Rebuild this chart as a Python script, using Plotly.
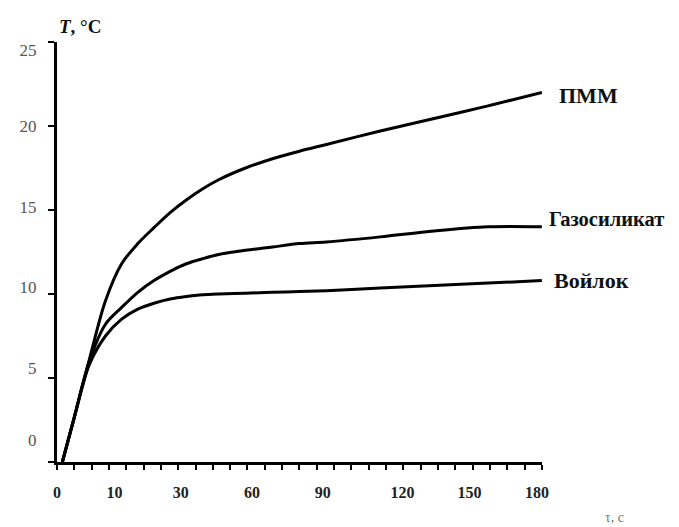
import plotly.graph_objects as go

# time, s
time_s = [2, 6, 12, 18, 24, 30, 36, 42, 48, 54, 60, 70, 80, 90, 100, 120, 140, 160, 180]
# temperature, °C
pmm = [0, 2.4, 6.1, 9.6, 11.8, 13.0, 13.95, 14.85, 15.6, 16.25, 16.8, 17.5, 18.05, 18.5, 18.9, 19.7, 20.45, 21.2, 22.0]
gazosilikat = [0, 2.4, 6.0, 8.2, 9.2, 10.1, 10.8, 11.35, 11.8, 12.1, 12.35, 12.6, 12.8, 13.0, 13.1, 13.4, 13.75, 14.0, 14.0]
voylok = [0, 2.4, 5.8, 7.5, 8.5, 9.1, 9.45, 9.7, 9.85, 9.95, 10.0, 10.05, 10.1, 10.15, 10.2, 10.35, 10.5, 10.65, 10.8]

series_names = ["ПММ", "Газосиликат", "Войлок"]

x_tick_labels = ["0", "10", "30", "60", "90", "120", "150", "180"]
x_tick_pos = [0, 21.3, 45.9, 72.4, 98.7, 128.3, 153.1, 178.2]
y_tick_labels = ["0", "5", "10", "15", "20", "25"]
y_tick_pos = [1.3, 5.6, 10.4, 15.2, 20.0, 24.5]

serif = "Liberation Serif"

fig = go.Figure()
for name, vals in zip(series_names, [pmm, gazosilikat, voylok]):
    fig.add_trace(go.Scatter(
        x=time_s, y=vals, mode="lines", name=name,
        line=dict(color="black", width=3, shape="spline", smoothing=0.9),
        showlegend=False,
    ))

label_shift = {"ПММ": (15, -3), "Газосиликат": (5, 8), "Войлок": (10, 0)}
label_size = {"ПММ": 22, "Газосиликат": 20.5, "Войлок": 22}
for name, vals in zip(series_names, [pmm, gazosilikat, voylok]):
    dx, dy = label_shift[name]
    fig.add_annotation(
        x=time_s[-1], y=vals[-1], xref="x", yref="y",
        text=f"<b>{name}</b>", showarrow=False,
        xanchor="left", yanchor="middle", xshift=dx, yshift=dy,
        font=dict(family=serif, size=label_size[name], color="#111"),
    )

fig.add_annotation(
    x=0, y=1, xref="paper", yref="paper",
    text="<b><i>T</i>, °C</b>", showarrow=False,
    xanchor="left", yanchor="bottom", xshift=0, yshift=3,
    font=dict(family=serif, size=19, color="#111"),
)
fig.add_annotation(
    x=1.125, y=-0.131, xref="paper", yref="paper",
    text="τ, с", showarrow=False,
    xanchor="left", yanchor="middle",
    font=dict(family=serif, size=14, color="#777"),
)

fig.update_xaxes(
    range=[0, 180.05],
    showgrid=False, zeroline=False,
    showline=True, linecolor="black", linewidth=3,
    tickmode="array", tickvals=x_tick_pos, ticktext=x_tick_labels,
    ticks="", ticklabelstandoff=14,
    tickfont=dict(family=serif, size=16, color="#222", weight="bold"),
    minor=dict(ticks="outside", ticklen=5, tickwidth=2, tickcolor="black",
               tickmode="linear", tick0=0, dtick=180 / 28),
)
fig.update_yaxes(
    range=[0, 25],
    showgrid=False, zeroline=False,
    showline=True, linecolor="black", linewidth=3,
    tickmode="array", tickvals=y_tick_pos, ticktext=y_tick_labels,
    ticks="", ticklabelstandoff=14,
    tickfont=dict(family=serif, size=17, color="#555"),
    minor=dict(ticks="outside", ticklen=6, tickwidth=2, tickcolor="black",
               tickmode="linear", tick0=0, dtick=5),
)

fig.update_layout(
    width=679, height=527,
    margin=dict(l=43, r=145, t=34, b=73),
    paper_bgcolor="white", plot_bgcolor="white",
)

fig.write_html("out.html")
